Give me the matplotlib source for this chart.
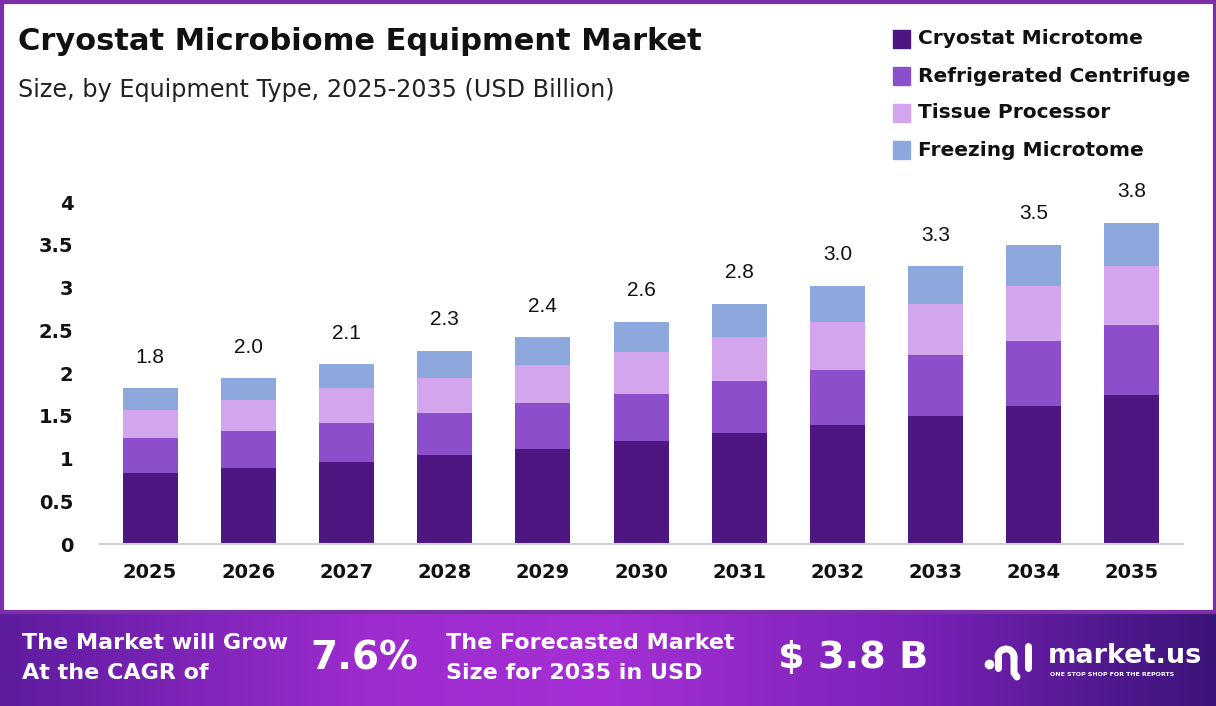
import matplotlib
matplotlib.use("Agg")
import matplotlib.pyplot as plt
import numpy as np
from matplotlib.colors import LinearSegmentedColormap
from matplotlib.patches import Rectangle
from matplotlib.lines import Line2D

YEARS = ["2025", "2026", "2027", "2028", "2029", "2030",
         "2031", "2032", "2033", "2034", "2035"]
SERIES = ["Cryostat Microtome", "Refrigerated Centrifuge",
          "Tissue Processor", "Freezing Microtome"]
CRYOSTAT = [0.83, 0.89, 0.96, 1.04, 1.11, 1.20, 1.30, 1.39, 1.50, 1.61, 1.74]
REFRIGERATED = [0.41, 0.43, 0.46, 0.49, 0.54, 0.56, 0.61, 0.65, 0.71, 0.76, 0.82]
TISSUE = [0.33, 0.36, 0.40, 0.41, 0.44, 0.49, 0.51, 0.56, 0.60, 0.65, 0.69]
FREEZING = [0.25, 0.26, 0.28, 0.32, 0.33, 0.35, 0.39, 0.42, 0.44, 0.48, 0.51]
TOTAL_LABELS = ["1.8", "2.0", "2.1", "2.3", "2.4", "2.6",
                "2.8", "3.0", "3.3", "3.5", "3.8"]
Y_TICKS = [0, 0.5, 1, 1.5, 2, 2.5, 3, 3.5, 4]
Y_TICK_LABELS = ["0", "0.5", "1", "1.5", "2", "2.5", "3", "3.5", "4"]

COLORS = ["#4d1680", "#8c4ecb", "#d3a5ec", "#8ca8dc"]

W, H = 1216, 706
fig = plt.figure(figsize=(W / 100, H / 100), dpi=100)
fig.patch.set_facecolor("white")

# main axes placed in pixel terms
ax_left, ax_right, ax_base = 100, 1183, 544
px_per_unit = 85.5
ymax = 4.2
ax = fig.add_axes([ax_left / W, (H - ax_base) / H,
                   (ax_right - ax_left) / W, ymax * px_per_unit / H])

x = np.arange(len(YEARS))
bottom = np.zeros(len(YEARS))
for name, vals, color in zip(SERIES, [CRYOSTAT, REFRIGERATED, TISSUE, FREEZING], COLORS):
    ax.bar(x, vals, width=0.56, bottom=bottom, color=color, label=name, zorder=2)
    bottom += np.array(vals)

for xi, top, lab in zip(x, bottom, TOTAL_LABELS):
    ax.text(xi, top + 0.25, lab, ha="center", va="bottom",
            fontsize=15, family="Liberation Sans", color="#111111")

ax.set_xlim(-0.51, 10.52)
ax.set_ylim(0, ymax)
ax.set_xticks(x)
ax.set_xticklabels(YEARS, fontsize=14, fontweight="bold", color="#111111")
ax.set_yticks(Y_TICKS)
ax.set_yticklabels(Y_TICK_LABELS, fontsize=14, fontweight="bold", color="#111111")
ax.tick_params(axis="both", length=0)
ax.tick_params(axis="x", pad=14)
ax.tick_params(axis="y", pad=19)
for side in ["top", "right", "left"]:
    ax.spines[side].set_visible(False)
ax.spines["bottom"].set_color("#d0d0d0")
ax.spines["bottom"].set_linewidth(1.5)

# titles
fig.text(18 / W, 1 - 42 / H, "Cryostat Microbiome Equipment Market",
         fontsize=22, fontweight="bold", color="#111111", va="center")
fig.text(18 / W, 1 - 90 / H, "Size, by Equipment Type, 2025-2035 (USD Billion)",
         fontsize=17.2, color="#222222", va="center")

# legend
for i, (name, color) in enumerate(zip(SERIES, COLORS)):
    yc = 1 - (39 + i * 37) / H
    fig.patches.append(Rectangle((893 / W, yc - 8.5 / H), 17 / W, 17 / H,
                                 transform=fig.transFigure, color=color))
    fig.text(918 / W, yc, name, fontsize=14.5, fontweight="bold",
             color="#111111", va="center")

# bottom banner with gradient
banner_h = 94
bax = fig.add_axes([0, 0, 1, banner_h / H])
cmap = LinearSegmentedColormap.from_list("banner", [
    (0.0, "#5e1c9f"), (0.3, "#9d2ccf"), (0.5, "#a52fd4"),
    (0.75, "#7a22b8"), (1.0, "#3b1478")])
grad = np.tile(np.linspace(0, 1, 512), (40, 1))
bax.imshow(grad, aspect="auto", cmap=cmap, extent=[0, 1, 0, 1])
bax.set_xlim(0, 1)
bax.set_ylim(0, 1)
bax.axis("off")

def btext(px, py, s, size, **kw):
    fig.text(px / W, 1 - py / H, s, fontsize=size, fontweight="bold",
             color="white", va="center", **kw)

btext(22, 643, "The Market will Grow", 16)
btext(22, 673, "At the CAGR of", 16)
btext(310, 658, "7.6%", 28)
btext(446, 643, "The Forecasted Market", 16)
btext(446, 673, "Size for 2035 in USD", 16)
btext(778, 658, "$ 3.8 B", 27.5)
btext(1048, 656, "market.us", 19.5)
fig.text(1050 / W, 1 - 674 / H, "ONE STOP SHOP FOR THE REPORTS", fontsize=4.5,
         fontweight="bold", color="white", va="center")

# rough logo mark
def fline(xs, ys, lw):
    fig.lines.append(Line2D([v / W for v in xs], [1 - v / H for v in ys],
                            transform=fig.transFigure, color="white",
                            linewidth=lw, solid_capstyle="round"))

fig.lines.append(Line2D([989 / W], [1 - 664 / H], transform=fig.transFigure,
                        marker="o", markersize=6, color="white", linestyle="none"))
theta = np.linspace(np.pi, 0, 30)
fline(list(1006 + 8 * np.cos(theta)), list(657 - 8 * np.sin(theta)), 5)
fline([998, 998], [657, 668], 5)
fline([1014, 1014, 1017], [657, 673, 677], 5)
fline([1028, 1028], [646, 668], 5)

# purple frame around the chart area
fig.patches.append(Rectangle((1.5 / W, banner_h / H), (W - 3) / W, (H - banner_h - 1.5) / H,
                             transform=fig.transFigure, fill=False,
                             edgecolor="#7b2fa8", linewidth=3))

fig.savefig("out.png", dpi=100)
